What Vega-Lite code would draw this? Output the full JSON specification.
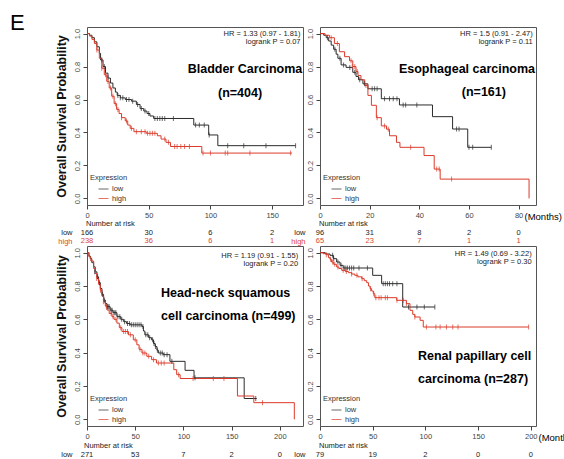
{
"$schema":"https://vega.github.io/schema/vega-lite/v6.json",
"padding":{"left":10,"top":11,"right":0,"bottom":0},
"background":"white",
"title":{"text":"E","anchor":"start","frame":"group","dx":-77,"offset":-8,"fontSize":22,"fontWeight":"normal","font":"Liberation Sans","color":"#000"},
"datasets":{
"curves":[
{"p":"TL","g":"low","t":0,"s":1},{"p":"TL","g":"low","t":2,"s":0.99},{"p":"TL","g":"low","t":4,"s":0.975},{"p":"TL","g":"low","t":6,"s":0.95},{"p":"TL","g":"low","t":8,"s":0.92},{"p":"TL","g":"low","t":10,"s":0.88},{"p":"TL","g":"low","t":11,"s":0.84},{"p":"TL","g":"low","t":13,"s":0.8},{"p":"TL","g":"low","t":15,"s":0.76},{"p":"TL","g":"low","t":17,"s":0.73},{"p":"TL","g":"low","t":19,"s":0.7},{"p":"TL","g":"low","t":21,"s":0.67},{"p":"TL","g":"low","t":23,"s":0.645},{"p":"TL","g":"low","t":24.5,"s":0.625},{"p":"TL","g":"low","t":27,"s":0.61},{"p":"TL","g":"low","t":31,"s":0.6},{"p":"TL","g":"low","t":36,"s":0.59},{"p":"TL","g":"low","t":40,"s":0.57},{"p":"TL","g":"low","t":43,"s":0.545},{"p":"TL","g":"low","t":46,"s":0.53},{"p":"TL","g":"low","t":48.6,"s":0.515},{"p":"TL","g":"low","t":51,"s":0.5},{"p":"TL","g":"low","t":54,"s":0.485},{"p":"TL","g":"low","t":86.5,"s":0.445},{"p":"TL","g":"low","t":98.6,"s":0.385},{"p":"TL","g":"low","t":106,"s":0.32},{"p":"TL","g":"low","t":169,"s":0.32},
{"p":"TL","g":"high","t":0,"s":1},{"p":"TL","g":"high","t":2,"s":0.985},{"p":"TL","g":"high","t":4,"s":0.965},{"p":"TL","g":"high","t":6,"s":0.94},{"p":"TL","g":"high","t":8,"s":0.9},{"p":"TL","g":"high","t":10,"s":0.85},{"p":"TL","g":"high","t":12,"s":0.79},{"p":"TL","g":"high","t":14,"s":0.75},{"p":"TL","g":"high","t":16,"s":0.71},{"p":"TL","g":"high","t":18,"s":0.67},{"p":"TL","g":"high","t":20,"s":0.62},{"p":"TL","g":"high","t":22,"s":0.575},{"p":"TL","g":"high","t":24,"s":0.54},{"p":"TL","g":"high","t":26,"s":0.515},{"p":"TL","g":"high","t":28,"s":0.49},{"p":"TL","g":"high","t":31,"s":0.47},{"p":"TL","g":"high","t":33,"s":0.445},{"p":"TL","g":"high","t":35,"s":0.425},{"p":"TL","g":"high","t":38,"s":0.405},{"p":"TL","g":"high","t":48,"s":0.395},{"p":"TL","g":"high","t":57,"s":0.38},{"p":"TL","g":"high","t":60,"s":0.36},{"p":"TL","g":"high","t":64,"s":0.34},{"p":"TL","g":"high","t":67.6,"s":0.315},{"p":"TL","g":"high","t":93,"s":0.275},{"p":"TL","g":"high","t":166,"s":0.275},
{"p":"TR","g":"low","t":0,"s":1},{"p":"TR","g":"low","t":1.5,"s":0.99},{"p":"TR","g":"low","t":2.5,"s":0.975},{"p":"TR","g":"low","t":3.5,"s":0.955},{"p":"TR","g":"low","t":4.5,"s":0.93},{"p":"TR","g":"low","t":5.5,"s":0.905},{"p":"TR","g":"low","t":6.5,"s":0.875},{"p":"TR","g":"low","t":7.2,"s":0.85},{"p":"TR","g":"low","t":8.5,"s":0.81},{"p":"TR","g":"low","t":10.5,"s":0.795},{"p":"TR","g":"low","t":13.2,"s":0.765},{"p":"TR","g":"low","t":14.5,"s":0.74},{"p":"TR","g":"low","t":15.5,"s":0.72},{"p":"TR","g":"low","t":17.3,"s":0.695},{"p":"TR","g":"low","t":19.3,"s":0.665},{"p":"TR","g":"low","t":24.7,"s":0.605},{"p":"TR","g":"low","t":32,"s":0.567},{"p":"TR","g":"low","t":45.3,"s":0.496},{"p":"TR","g":"low","t":53.4,"s":0.421},{"p":"TR","g":"low","t":59.5,"s":0.31},{"p":"TR","g":"low","t":69,"s":0.31},
{"p":"TR","g":"high","t":0,"s":1},{"p":"TR","g":"high","t":2,"s":0.99},{"p":"TR","g":"high","t":3.8,"s":0.975},{"p":"TR","g":"high","t":5.8,"s":0.94},{"p":"TR","g":"high","t":7.8,"s":0.89},{"p":"TR","g":"high","t":9.9,"s":0.86},{"p":"TR","g":"high","t":11.9,"s":0.835},{"p":"TR","g":"high","t":13.2,"s":0.8},{"p":"TR","g":"high","t":14.5,"s":0.77},{"p":"TR","g":"high","t":15.3,"s":0.745},{"p":"TR","g":"high","t":16.5,"s":0.72},{"p":"TR","g":"high","t":18,"s":0.685},{"p":"TR","g":"high","t":19.3,"s":0.625},{"p":"TR","g":"high","t":20.7,"s":0.565},{"p":"TR","g":"high","t":22.7,"s":0.49},{"p":"TR","g":"high","t":24.7,"s":0.44},{"p":"TR","g":"high","t":26.8,"s":0.42},{"p":"TR","g":"high","t":28,"s":0.38},{"p":"TR","g":"high","t":30.8,"s":0.34},{"p":"TR","g":"high","t":32.2,"s":0.31},{"p":"TR","g":"high","t":41.9,"s":0.26},{"p":"TR","g":"high","t":46,"s":0.178},{"p":"TR","g":"high","t":48.4,"s":0.117},{"p":"TR","g":"high","t":84.2,"s":0},
{"p":"BL","g":"low","t":0,"s":1},{"p":"BL","g":"low","t":2,"s":0.98},{"p":"BL","g":"low","t":3.4,"s":0.964},{"p":"BL","g":"low","t":5,"s":0.94},{"p":"BL","g":"low","t":6.9,"s":0.915},{"p":"BL","g":"low","t":8.5,"s":0.885},{"p":"BL","g":"low","t":10.3,"s":0.855},{"p":"BL","g":"low","t":12,"s":0.82},{"p":"BL","g":"low","t":13.8,"s":0.785},{"p":"BL","g":"low","t":15.5,"s":0.75},{"p":"BL","g":"low","t":17.2,"s":0.716},{"p":"BL","g":"low","t":19,"s":0.695},{"p":"BL","g":"low","t":20.7,"s":0.676},{"p":"BL","g":"low","t":24,"s":0.655},{"p":"BL","g":"low","t":27,"s":0.64},{"p":"BL","g":"low","t":31,"s":0.616},{"p":"BL","g":"low","t":35,"s":0.6},{"p":"BL","g":"low","t":38,"s":0.586},{"p":"BL","g":"low","t":41,"s":0.575},{"p":"BL","g":"low","t":44.8,"s":0.567},{"p":"BL","g":"low","t":57,"s":0.557},{"p":"BL","g":"low","t":58.5,"s":0.53},{"p":"BL","g":"low","t":60,"s":0.507},{"p":"BL","g":"low","t":64,"s":0.49},{"p":"BL","g":"low","t":67,"s":0.477},{"p":"BL","g":"low","t":69,"s":0.455},{"p":"BL","g":"low","t":70.7,"s":0.437},{"p":"BL","g":"low","t":72.5,"s":0.415},{"p":"BL","g":"low","t":74,"s":0.398},{"p":"BL","g":"low","t":79,"s":0.388},{"p":"BL","g":"low","t":86,"s":0.348},{"p":"BL","g":"low","t":101.7,"s":0.294},{"p":"BL","g":"low","t":111,"s":0.249},{"p":"BL","g":"low","t":163,"s":0.125},{"p":"BL","g":"low","t":176,"s":0.125},
{"p":"BL","g":"high","t":0,"s":1},{"p":"BL","g":"high","t":2,"s":0.975},{"p":"BL","g":"high","t":4,"s":0.95},{"p":"BL","g":"high","t":6.9,"s":0.905},{"p":"BL","g":"high","t":8.5,"s":0.875},{"p":"BL","g":"high","t":10.3,"s":0.845},{"p":"BL","g":"high","t":12,"s":0.81},{"p":"BL","g":"high","t":13.8,"s":0.775},{"p":"BL","g":"high","t":15.5,"s":0.74},{"p":"BL","g":"high","t":17.2,"s":0.706},{"p":"BL","g":"high","t":19,"s":0.68},{"p":"BL","g":"high","t":20.7,"s":0.656},{"p":"BL","g":"high","t":23,"s":0.635},{"p":"BL","g":"high","t":25.9,"s":0.616},{"p":"BL","g":"high","t":28,"s":0.6},{"p":"BL","g":"high","t":31,"s":0.577},{"p":"BL","g":"high","t":33.5,"s":0.55},{"p":"BL","g":"high","t":36.2,"s":0.527},{"p":"BL","g":"high","t":43,"s":0.507},{"p":"BL","g":"high","t":48,"s":0.477},{"p":"BL","g":"high","t":51.7,"s":0.447},{"p":"BL","g":"high","t":54,"s":0.42},{"p":"BL","g":"high","t":57,"s":0.398},{"p":"BL","g":"high","t":62,"s":0.378},{"p":"BL","g":"high","t":67,"s":0.358},{"p":"BL","g":"high","t":72,"s":0.338},{"p":"BL","g":"high","t":90,"s":0.298},{"p":"BL","g":"high","t":93,"s":0.268},{"p":"BL","g":"high","t":96.6,"s":0.245},{"p":"BL","g":"high","t":156,"s":0.14},{"p":"BL","g":"high","t":173,"s":0.1},{"p":"BL","g":"high","t":215,"s":0},
{"p":"BR","g":"low","t":0,"s":1},{"p":"BR","g":"low","t":5,"s":0.992},{"p":"BR","g":"low","t":9.5,"s":0.984},{"p":"BR","g":"low","t":12.7,"s":0.964},{"p":"BR","g":"low","t":15.8,"s":0.944},{"p":"BR","g":"low","t":19,"s":0.924},{"p":"BR","g":"low","t":22,"s":0.908},{"p":"BR","g":"low","t":50,"s":0.864},{"p":"BR","g":"low","t":58.5,"s":0.814},{"p":"BR","g":"low","t":78.5,"s":0.674},{"p":"BR","g":"low","t":109,"s":0.674},
{"p":"BR","g":"high","t":0,"s":1},{"p":"BR","g":"high","t":3,"s":0.994},{"p":"BR","g":"high","t":6.3,"s":0.988},{"p":"BR","g":"high","t":8,"s":0.97},{"p":"BR","g":"high","t":9.5,"s":0.96},{"p":"BR","g":"high","t":11,"s":0.944},{"p":"BR","g":"high","t":13,"s":0.93},{"p":"BR","g":"high","t":15.8,"s":0.914},{"p":"BR","g":"high","t":18,"s":0.905},{"p":"BR","g":"high","t":20.6,"s":0.894},{"p":"BR","g":"high","t":24,"s":0.887},{"p":"BR","g":"high","t":27,"s":0.88},{"p":"BR","g":"high","t":30,"s":0.872},{"p":"BR","g":"high","t":33,"s":0.864},{"p":"BR","g":"high","t":36,"s":0.855},{"p":"BR","g":"high","t":39.6,"s":0.844},{"p":"BR","g":"high","t":42,"s":0.832},{"p":"BR","g":"high","t":44.3,"s":0.82},{"p":"BR","g":"high","t":46,"s":0.8},{"p":"BR","g":"high","t":47.5,"s":0.784},{"p":"BR","g":"high","t":49,"s":0.77},{"p":"BR","g":"high","t":50.6,"s":0.754},{"p":"BR","g":"high","t":52,"s":0.73},{"p":"BR","g":"high","t":72.8,"s":0.714},{"p":"BR","g":"high","t":82,"s":0.694},{"p":"BR","g":"high","t":85.4,"s":0.654},{"p":"BR","g":"high","t":88,"s":0.63},{"p":"BR","g":"high","t":90,"s":0.614},{"p":"BR","g":"high","t":95,"s":0.594},{"p":"BR","g":"high","t":98,"s":0.554},{"p":"BR","g":"high","t":198,"s":0.554}
],
"cens":[
{"p":"TL","g":"low","t":12,"s":0.84},{"p":"TL","g":"low","t":14,"s":0.8},{"p":"TL","g":"low","t":17,"s":0.73},{"p":"TL","g":"low","t":25,"s":0.625},{"p":"TL","g":"low","t":27,"s":0.61},{"p":"TL","g":"low","t":29,"s":0.61},{"p":"TL","g":"low","t":32,"s":0.6},{"p":"TL","g":"low","t":34,"s":0.6},{"p":"TL","g":"low","t":37,"s":0.59},{"p":"TL","g":"low","t":41,"s":0.57},{"p":"TL","g":"low","t":44,"s":0.545},{"p":"TL","g":"low","t":47,"s":0.53},{"p":"TL","g":"low","t":50,"s":0.515},{"p":"TL","g":"low","t":55,"s":0.485},{"p":"TL","g":"low","t":57,"s":0.485},{"p":"TL","g":"low","t":59,"s":0.485},{"p":"TL","g":"low","t":61,"s":0.485},{"p":"TL","g":"low","t":63,"s":0.485},{"p":"TL","g":"low","t":70,"s":0.485},{"p":"TL","g":"low","t":88,"s":0.445},{"p":"TL","g":"low","t":91,"s":0.445},{"p":"TL","g":"low","t":95,"s":0.445},{"p":"TL","g":"low","t":99,"s":0.385},{"p":"TL","g":"low","t":114,"s":0.32},{"p":"TL","g":"low","t":127,"s":0.32},{"p":"TL","g":"low","t":145,"s":0.32},{"p":"TL","g":"low","t":169,"s":0.32},
{"p":"TL","g":"high","t":8,"s":0.9},{"p":"TL","g":"high","t":12,"s":0.79},{"p":"TL","g":"high","t":15,"s":0.75},{"p":"TL","g":"high","t":17,"s":0.71},{"p":"TL","g":"high","t":19,"s":0.67},{"p":"TL","g":"high","t":21,"s":0.62},{"p":"TL","g":"high","t":23,"s":0.575},{"p":"TL","g":"high","t":25,"s":0.54},{"p":"TL","g":"high","t":28,"s":0.49},{"p":"TL","g":"high","t":32,"s":0.47},{"p":"TL","g":"high","t":36,"s":0.425},{"p":"TL","g":"high","t":40,"s":0.405},{"p":"TL","g":"high","t":44,"s":0.405},{"p":"TL","g":"high","t":47,"s":0.405},{"p":"TL","g":"high","t":49,"s":0.395},{"p":"TL","g":"high","t":51,"s":0.395},{"p":"TL","g":"high","t":53,"s":0.395},{"p":"TL","g":"high","t":55,"s":0.395},{"p":"TL","g":"high","t":63,"s":0.36},{"p":"TL","g":"high","t":66,"s":0.34},{"p":"TL","g":"high","t":71,"s":0.315},{"p":"TL","g":"high","t":73,"s":0.315},{"p":"TL","g":"high","t":76,"s":0.315},{"p":"TL","g":"high","t":79,"s":0.315},{"p":"TL","g":"high","t":83,"s":0.315},{"p":"TL","g":"high","t":94,"s":0.275},{"p":"TL","g":"high","t":100,"s":0.275},{"p":"TL","g":"high","t":112,"s":0.275},{"p":"TL","g":"high","t":114,"s":0.275},{"p":"TL","g":"high","t":132,"s":0.275},{"p":"TL","g":"high","t":165,"s":0.275},
{"p":"TR","g":"low","t":3,"s":0.975},{"p":"TR","g":"low","t":6,"s":0.905},{"p":"TR","g":"low","t":8,"s":0.85},{"p":"TR","g":"low","t":9.5,"s":0.81},{"p":"TR","g":"low","t":12,"s":0.795},{"p":"TR","g":"low","t":14,"s":0.765},{"p":"TR","g":"low","t":16,"s":0.72},{"p":"TR","g":"low","t":18,"s":0.695},{"p":"TR","g":"low","t":21,"s":0.665},{"p":"TR","g":"low","t":22,"s":0.665},{"p":"TR","g":"low","t":23,"s":0.665},{"p":"TR","g":"low","t":26,"s":0.605},{"p":"TR","g":"low","t":28,"s":0.605},{"p":"TR","g":"low","t":29.5,"s":0.605},{"p":"TR","g":"low","t":31,"s":0.605},{"p":"TR","g":"low","t":33.5,"s":0.567},{"p":"TR","g":"low","t":34.5,"s":0.567},{"p":"TR","g":"low","t":39,"s":0.567},{"p":"TR","g":"low","t":55,"s":0.421},{"p":"TR","g":"low","t":56,"s":0.421},{"p":"TR","g":"low","t":60,"s":0.31},{"p":"TR","g":"low","t":61.5,"s":0.31},{"p":"TR","g":"low","t":69,"s":0.31},
{"p":"TR","g":"high","t":4.5,"s":0.975},{"p":"TR","g":"high","t":7,"s":0.94},{"p":"TR","g":"high","t":12.5,"s":0.835},{"p":"TR","g":"high","t":13,"s":0.8},{"p":"TR","g":"high","t":14,"s":0.8},{"p":"TR","g":"high","t":15,"s":0.77},{"p":"TR","g":"high","t":18.5,"s":0.685},{"p":"TR","g":"high","t":23,"s":0.49},{"p":"TR","g":"high","t":26,"s":0.44},{"p":"TR","g":"high","t":27.5,"s":0.42},{"p":"TR","g":"high","t":36.5,"s":0.31},{"p":"TR","g":"high","t":47,"s":0.178},{"p":"TR","g":"high","t":48,"s":0.178},{"p":"TR","g":"high","t":53,"s":0.117},
{"p":"BL","g":"low","t":8,"s":0.885},{"p":"BL","g":"low","t":11,"s":0.855},{"p":"BL","g":"low","t":13,"s":0.82},{"p":"BL","g":"low","t":16,"s":0.75},{"p":"BL","g":"low","t":18,"s":0.716},{"p":"BL","g":"low","t":21,"s":0.676},{"p":"BL","g":"low","t":22,"s":0.676},{"p":"BL","g":"low","t":23,"s":0.676},{"p":"BL","g":"low","t":25,"s":0.655},{"p":"BL","g":"low","t":26,"s":0.655},{"p":"BL","g":"low","t":28,"s":0.64},{"p":"BL","g":"low","t":29,"s":0.64},{"p":"BL","g":"low","t":30,"s":0.64},{"p":"BL","g":"low","t":32,"s":0.616},{"p":"BL","g":"low","t":34,"s":0.616},{"p":"BL","g":"low","t":36,"s":0.6},{"p":"BL","g":"low","t":39,"s":0.586},{"p":"BL","g":"low","t":42,"s":0.575},{"p":"BL","g":"low","t":44,"s":0.575},{"p":"BL","g":"low","t":46,"s":0.567},{"p":"BL","g":"low","t":48,"s":0.567},{"p":"BL","g":"low","t":50,"s":0.567},{"p":"BL","g":"low","t":52,"s":0.567},{"p":"BL","g":"low","t":54,"s":0.567},{"p":"BL","g":"low","t":56,"s":0.567},{"p":"BL","g":"low","t":58,"s":0.557},{"p":"BL","g":"low","t":61,"s":0.507},{"p":"BL","g":"low","t":63,"s":0.507},{"p":"BL","g":"low","t":65,"s":0.49},{"p":"BL","g":"low","t":68,"s":0.477},{"p":"BL","g":"low","t":69.5,"s":0.455},{"p":"BL","g":"low","t":71,"s":0.437},{"p":"BL","g":"low","t":73,"s":0.415},{"p":"BL","g":"low","t":76,"s":0.398},{"p":"BL","g":"low","t":78,"s":0.398},{"p":"BL","g":"low","t":80,"s":0.388},{"p":"BL","g":"low","t":83,"s":0.388},{"p":"BL","g":"low","t":88,"s":0.348},{"p":"BL","g":"low","t":112,"s":0.249},{"p":"BL","g":"low","t":175,"s":0.125},
{"p":"BL","g":"high","t":10,"s":0.845},{"p":"BL","g":"high","t":14,"s":0.775},{"p":"BL","g":"high","t":17,"s":0.706},{"p":"BL","g":"high","t":20,"s":0.68},{"p":"BL","g":"high","t":25,"s":0.635},{"p":"BL","g":"high","t":27,"s":0.616},{"p":"BL","g":"high","t":30,"s":0.6},{"p":"BL","g":"high","t":35,"s":0.55},{"p":"BL","g":"high","t":38,"s":0.527},{"p":"BL","g":"high","t":40,"s":0.527},{"p":"BL","g":"high","t":42,"s":0.527},{"p":"BL","g":"high","t":45,"s":0.507},{"p":"BL","g":"high","t":50,"s":0.477},{"p":"BL","g":"high","t":55,"s":0.42},{"p":"BL","g":"high","t":58,"s":0.398},{"p":"BL","g":"high","t":60,"s":0.398},{"p":"BL","g":"high","t":64,"s":0.378},{"p":"BL","g":"high","t":69,"s":0.358},{"p":"BL","g":"high","t":74,"s":0.338},{"p":"BL","g":"high","t":77,"s":0.338},{"p":"BL","g":"high","t":80,"s":0.338},{"p":"BL","g":"high","t":95,"s":0.268},{"p":"BL","g":"high","t":110,"s":0.245},{"p":"BL","g":"high","t":131,"s":0.245},{"p":"BL","g":"high","t":142,"s":0.245},{"p":"BL","g":"high","t":182,"s":0.1},
{"p":"BR","g":"low","t":12,"s":0.984},{"p":"BR","g":"low","t":13,"s":0.964},{"p":"BR","g":"low","t":17,"s":0.944},{"p":"BR","g":"low","t":20,"s":0.924},{"p":"BR","g":"low","t":23,"s":0.908},{"p":"BR","g":"low","t":24.5,"s":0.908},{"p":"BR","g":"low","t":26,"s":0.908},{"p":"BR","g":"low","t":28,"s":0.908},{"p":"BR","g":"low","t":30,"s":0.908},{"p":"BR","g":"low","t":32,"s":0.908},{"p":"BR","g":"low","t":37,"s":0.908},{"p":"BR","g":"low","t":45,"s":0.908},{"p":"BR","g":"low","t":60,"s":0.814},{"p":"BR","g":"low","t":62,"s":0.814},{"p":"BR","g":"low","t":64,"s":0.814},{"p":"BR","g":"low","t":66,"s":0.814},{"p":"BR","g":"low","t":69,"s":0.814},{"p":"BR","g":"low","t":73,"s":0.814},{"p":"BR","g":"low","t":84,"s":0.674},{"p":"BR","g":"low","t":92,"s":0.674},{"p":"BR","g":"low","t":99,"s":0.674},{"p":"BR","g":"low","t":109,"s":0.674},
{"p":"BR","g":"high","t":6,"s":0.988},{"p":"BR","g":"high","t":10,"s":0.96},{"p":"BR","g":"high","t":12,"s":0.944},{"p":"BR","g":"high","t":14,"s":0.93},{"p":"BR","g":"high","t":17,"s":0.914},{"p":"BR","g":"high","t":22,"s":0.894},{"p":"BR","g":"high","t":25,"s":0.887},{"p":"BR","g":"high","t":30,"s":0.872},{"p":"BR","g":"high","t":35,"s":0.864},{"p":"BR","g":"high","t":40,"s":0.844},{"p":"BR","g":"high","t":48,"s":0.784},{"p":"BR","g":"high","t":51,"s":0.754},{"p":"BR","g":"high","t":53,"s":0.73},{"p":"BR","g":"high","t":56,"s":0.73},{"p":"BR","g":"high","t":58,"s":0.73},{"p":"BR","g":"high","t":62,"s":0.73},{"p":"BR","g":"high","t":64,"s":0.73},{"p":"BR","g":"high","t":73,"s":0.714},{"p":"BR","g":"high","t":79,"s":0.714},{"p":"BR","g":"high","t":82,"s":0.694},{"p":"BR","g":"high","t":90,"s":0.614},{"p":"BR","g":"high","t":101,"s":0.554},{"p":"BR","g":"high","t":110,"s":0.554},{"p":"BR","g":"high","t":114,"s":0.554},{"p":"BR","g":"high","t":120,"s":0.554},{"p":"BR","g":"high","t":126,"s":0.554},{"p":"BR","g":"high","t":131,"s":0.554},{"p":"BR","g":"high","t":198,"s":0.554}
],
"risk":[
{"p":"TL","g":"low","t":0,"n":166},{"p":"TL","g":"low","t":50,"n":30},{"p":"TL","g":"low","t":100,"n":6},{"p":"TL","g":"low","t":150,"n":2},
{"p":"TL","g":"high","t":0,"n":238},{"p":"TL","g":"high","t":50,"n":36},{"p":"TL","g":"high","t":100,"n":6},{"p":"TL","g":"high","t":150,"n":1},
{"p":"TR","g":"low","t":0,"n":96},{"p":"TR","g":"low","t":20,"n":31},{"p":"TR","g":"low","t":40,"n":8},{"p":"TR","g":"low","t":60,"n":2},{"p":"TR","g":"low","t":80,"n":0},
{"p":"TR","g":"high","t":0,"n":65},{"p":"TR","g":"high","t":20,"n":23},{"p":"TR","g":"high","t":40,"n":7},{"p":"TR","g":"high","t":60,"n":1},{"p":"TR","g":"high","t":80,"n":1},
{"p":"BL","g":"low","t":0,"n":271},{"p":"BL","g":"low","t":50,"n":53},{"p":"BL","g":"low","t":100,"n":7},{"p":"BL","g":"low","t":150,"n":2},{"p":"BL","g":"low","t":200,"n":0},
{"p":"BL","g":"high","t":0,"n":228},{"p":"BL","g":"high","t":50,"n":33},{"p":"BL","g":"high","t":100,"n":8},{"p":"BL","g":"high","t":150,"n":1},{"p":"BL","g":"high","t":200,"n":1},
{"p":"BR","g":"low","t":0,"n":79},{"p":"BR","g":"low","t":50,"n":19},{"p":"BR","g":"low","t":100,"n":2},{"p":"BR","g":"low","t":150,"n":0},{"p":"BR","g":"low","t":200,"n":0},
{"p":"BR","g":"high","t":0,"n":208},{"p":"BR","g":"high","t":50,"n":54},{"p":"BR","g":"high","t":100,"n":10},{"p":"BR","g":"high","t":150,"n":1},{"p":"BR","g":"high","t":200,"n":0}
]
},
"bounds":"flush",
"columns":2,
"spacing":{"row":0,"column":17},
"resolve":{"scale":{"x":"independent","y":"independent","color":"independent"},"legend":{"color":"independent"}},
"concat":[
 {"width":216,"height":178,
  "layer":[
   {"data":{"name":"curves"},"transform":[{"filter":"datum.p == 'TL'"}],"mark":{"type":"line","interpolate":"step-after","strokeWidth":1},
    "encoding":{
     "x":{"field":"t","type":"quantitative","scale":{"domain":[0,175],"nice":false,"zero":false},"axis":{"values":[0,50,100,150],"title":null,"labelOverlap":false}},
     "y":{"field":"s","type":"quantitative","scale":{"domain":[-0.04,1.04],"nice":false,"zero":false},"axis":{"values":[0,0.2,0.4,0.6,0.8,1],"format":".1f","labelOverlap":false,"labelBound":false,"labelSeparation":-50,"title":"Overall Survival Probability"}},
     "color":{"field":"g","type":"nominal","scale":{"domain":["low","high"],"range":["#2b2b2b","#dc3a2a"]},"legend":{"title":"Expression"}}}},
   {"data":{"name":"cens"},"transform":[{"filter":"datum.p == 'TL'"}],"mark":{"type":"tick","orient":"vertical","size":5,"thickness":1},
    "encoding":{
     "x":{"field":"t","type":"quantitative","axis":{"values":[0,50,100,150],"title":null,"labelOverlap":false}},
     "y":{"field":"s","type":"quantitative","axis":{"values":[0,0.2,0.4,0.6,0.8,1],"format":".1f","labelOverlap":false,"labelBound":false,"labelSeparation":-50,"title":"Overall Survival Probability"}},
     "color":{"field":"g","type":"nominal"}}},
   {"data":{"values":[{}]},"mark":{"type":"text","align":"right","baseline":"top","fontSize":7.5,"lineHeight":7.5,"color":"#222"},"encoding":{
     "x":{"datum":173,"type":"quantitative","axis":{"values":[0,50,100,150],"title":null,"labelOverlap":false}},
     "y":{"datum":1.019,"type":"quantitative","axis":{"values":[0,0.2,0.4,0.6,0.8,1],"format":".1f","labelOverlap":false,"labelBound":false,"labelSeparation":-50,"title":"Overall Survival Probability"}},
     "text":{"value":["HR = 1.33 (0.97 - 1.81)","logrank P = 0.07"]}}},
   {"data":{"values":[{}]},"mark":{"type":"text","align":"center","baseline":"middle","fontSize":12.5,"fontWeight":"bold","color":"#000"},"encoding":{
     "x":{"datum":128,"type":"quantitative","axis":{"values":[0,50,100,150],"title":null,"labelOverlap":false}},
     "y":{"datum":0.785,"type":"quantitative","axis":{"values":[0,0.2,0.4,0.6,0.8,1],"format":".1f","labelOverlap":false,"labelBound":false,"labelSeparation":-50,"title":"Overall Survival Probability"}},
     "text":{"value":"Bladder Carcinoma"}}},
   {"data":{"values":[{}]},"mark":{"type":"text","align":"center","baseline":"middle","fontSize":12.5,"fontWeight":"bold","color":"#000"},"encoding":{
     "x":{"datum":124,"type":"quantitative","axis":{"values":[0,50,100,150],"title":null,"labelOverlap":false}},
     "y":{"datum":0.64,"type":"quantitative","axis":{"values":[0,0.2,0.4,0.6,0.8,1],"format":".1f","labelOverlap":false,"labelBound":false,"labelSeparation":-50,"title":"Overall Survival Probability"}},
     "text":{"value":"(n=404)"}}}
  ]},
 {"width":216,"height":178,
  "layer":[
   {"data":{"name":"curves"},"transform":[{"filter":"datum.p == 'TR'"}],"mark":{"type":"line","interpolate":"step-after","strokeWidth":1},
    "encoding":{
     "x":{"field":"t","type":"quantitative","scale":{"domain":[0,87],"nice":false,"zero":false},"axis":{"values":[0,20,40,60,80],"labelOverlap":false,"title":"(Months)","titleX":204,"titleY":11,"titleAlign":"left","titleBaseline":"middle","titleAngle":0,"titleFontSize":9.5,"titleFontWeight":"normal","titleColor":"#000"}},
     "y":{"field":"s","type":"quantitative","scale":{"domain":[-0.04,1.04],"nice":false,"zero":false},"axis":{"values":[0,0.2,0.4,0.6,0.8,1],"format":".1f","labelOverlap":false,"labelBound":false,"labelSeparation":-50,"title":null}},
     "color":{"field":"g","type":"nominal","scale":{"domain":["low","high"],"range":["#2b2b2b","#dc3a2a"]},"legend":{"title":"Expression"}}}},
   {"data":{"name":"cens"},"transform":[{"filter":"datum.p == 'TR'"}],"mark":{"type":"tick","orient":"vertical","size":5,"thickness":1},
    "encoding":{
     "x":{"field":"t","type":"quantitative","axis":{"values":[0,20,40,60,80],"labelOverlap":false,"title":"(Months)","titleX":204,"titleY":11,"titleAlign":"left","titleBaseline":"middle","titleAngle":0,"titleFontSize":9.5,"titleFontWeight":"normal","titleColor":"#000"}},
     "y":{"field":"s","type":"quantitative","axis":{"values":[0,0.2,0.4,0.6,0.8,1],"format":".1f","labelOverlap":false,"labelBound":false,"labelSeparation":-50,"title":null}},
     "color":{"field":"g","type":"nominal"}}},
   {"data":{"values":[{}]},"mark":{"type":"text","align":"right","baseline":"top","fontSize":7.5,"lineHeight":7.5,"color":"#222"},"encoding":{
     "x":{"datum":85.7,"type":"quantitative","axis":{"values":[0,20,40,60,80],"labelOverlap":false,"title":"(Months)","titleX":204,"titleY":11,"titleAlign":"left","titleBaseline":"middle","titleAngle":0,"titleFontSize":9.5,"titleFontWeight":"normal","titleColor":"#000"}},
     "y":{"datum":1.02,"type":"quantitative","axis":{"values":[0,0.2,0.4,0.6,0.8,1],"format":".1f","labelOverlap":false,"labelBound":false,"labelSeparation":-50,"title":null}},
     "text":{"value":["HR = 1.5 (0.91 - 2.47)","logrank P = 0.11"]}}},
   {"data":{"values":[{}]},"mark":{"type":"text","align":"center","baseline":"middle","fontSize":12.5,"fontWeight":"bold","color":"#000"},"encoding":{
     "x":{"datum":59.2,"type":"quantitative","axis":{"values":[0,20,40,60,80],"labelOverlap":false,"title":"(Months)","titleX":204,"titleY":11,"titleAlign":"left","titleBaseline":"middle","titleAngle":0,"titleFontSize":9.5,"titleFontWeight":"normal","titleColor":"#000"}},
     "y":{"datum":0.785,"type":"quantitative","axis":{"values":[0,0.2,0.4,0.6,0.8,1],"format":".1f","labelOverlap":false,"labelBound":false,"labelSeparation":-50,"title":null}},
     "text":{"value":"Esophageal carcinoma"}}},
   {"data":{"values":[{}]},"mark":{"type":"text","align":"center","baseline":"middle","fontSize":12.5,"fontWeight":"bold","color":"#000"},"encoding":{
     "x":{"datum":66,"type":"quantitative","axis":{"values":[0,20,40,60,80],"labelOverlap":false,"title":"(Months)","titleX":204,"titleY":11,"titleAlign":"left","titleBaseline":"middle","titleAngle":0,"titleFontSize":9.5,"titleFontWeight":"normal","titleColor":"#000"}},
     "y":{"datum":0.645,"type":"quantitative","axis":{"values":[0,0.2,0.4,0.6,0.8,1],"format":".1f","labelOverlap":false,"labelBound":false,"labelSeparation":-50,"title":null}},
     "text":{"value":"(n=161)"}}}
  ]},
 {"width":216,"height":41,"view":{"stroke":null},
  "layer":[
   {"data":{"name":"risk"},"transform":[{"filter":"datum.p == 'TL'"}],"mark":{"type":"text","align":"center","baseline":"middle","fontSize":7.5},
    "encoding":{"x":{"field":"t","type":"quantitative","scale":{"domain":[0,175],"nice":false,"zero":false},"axis":null},
     "y":{"field":"g","type":"ordinal","scale":{"domain":["hdr","low","high"],"range":[19,36],"padding":0},"axis":{"title":null,"ticks":false,"domain":false,"labelAngle":0,"labelAlign":"right","labelBaseline":"middle","labelPadding":15,"labelFontSize":7.5,"labelOverlap":false,"labelExpr":"datum.value == 'hdr' ? '' : datum.value","labelColor":{"condition":{"test":"datum.value == 'high'","value":"#d9452f"},"value":"#222"}}},
     "text":{"field":"n","type":"quantitative"},
     "color":{"condition":{"test":"datum.g == 'high'","value":"#d9452f"},"value":"#222"}}},
   {"data":{"values":[{}]},"mark":{"type":"text","align":"left","baseline":"middle","fontSize":7.5,"dx":-1,"color":"#222"},"encoding":{"x":{"datum":0},"y":{"datum":"hdr"},"text":{"value":"Number at risk"}}}
  ]},
 {"width":216,"height":41,"view":{"stroke":null},
  "layer":[
   {"data":{"name":"risk"},"transform":[{"filter":"datum.p == 'TR'"}],"mark":{"type":"text","align":"center","baseline":"middle","fontSize":7.5},
    "encoding":{"x":{"field":"t","type":"quantitative","scale":{"domain":[0,87],"nice":false,"zero":false},"axis":null},
     "y":{"field":"g","type":"ordinal","scale":{"domain":["hdr","low","high"],"range":[19,36],"padding":0},"axis":{"title":null,"ticks":false,"domain":false,"labelAngle":0,"labelAlign":"right","labelBaseline":"middle","labelPadding":15,"labelFontSize":7.5,"labelOverlap":false,"labelExpr":"datum.value == 'hdr' ? '' : datum.value","labelColor":{"condition":{"test":"datum.value == 'high'","value":"#d9452f"},"value":"#222"}}},
     "text":{"field":"n","type":"quantitative"},
     "color":{"condition":{"test":"datum.g == 'high'","value":"#d9452f"},"value":"#222"}}},
   {"data":{"values":[{}]},"mark":{"type":"text","align":"left","baseline":"middle","fontSize":7.5,"dx":-1,"color":"#222"},"encoding":{"x":{"datum":0},"y":{"datum":"hdr"},"text":{"value":"Number at risk"}}}
  ]},
 {"width":216,"height":180,
  "layer":[
   {"data":{"name":"curves"},"transform":[{"filter":"datum.p == 'BL'"}],"mark":{"type":"line","interpolate":"step-after","strokeWidth":1},
    "encoding":{
     "x":{"field":"t","type":"quantitative","scale":{"domain":[0,224],"nice":false,"zero":false},"axis":{"values":[0,50,100,150,200],"labelOverlap":false,"title":null}},
     "y":{"field":"s","type":"quantitative","scale":{"domain":[-0.04,1.04],"nice":false,"zero":false},"axis":{"values":[0,0.2,0.4,0.6,0.8,1],"format":".1f","labelOverlap":false,"labelBound":false,"labelSeparation":-50,"title":"Overall Survival Probability"}},
     "color":{"field":"g","type":"nominal","scale":{"domain":["low","high"],"range":["#2b2b2b","#dc3a2a"]},"legend":{"title":"Expression"}}}},
   {"data":{"name":"cens"},"transform":[{"filter":"datum.p == 'BL'"}],"mark":{"type":"tick","orient":"vertical","size":5,"thickness":1},
    "encoding":{
     "x":{"field":"t","type":"quantitative","axis":{"values":[0,50,100,150,200],"labelOverlap":false,"title":null}},
     "y":{"field":"s","type":"quantitative","axis":{"values":[0,0.2,0.4,0.6,0.8,1],"format":".1f","labelOverlap":false,"labelBound":false,"labelSeparation":-50,"title":"Overall Survival Probability"}},
     "color":{"field":"g","type":"nominal"}}},
   {"data":{"values":[{}]},"mark":{"type":"text","align":"right","baseline":"top","fontSize":7.5,"lineHeight":7.5,"color":"#222"},"encoding":{
     "x":{"datum":219,"type":"quantitative","axis":{"values":[0,50,100,150,200],"labelOverlap":false,"title":null}},
     "y":{"datum":1.002,"type":"quantitative","axis":{"values":[0,0.2,0.4,0.6,0.8,1],"format":".1f","labelOverlap":false,"labelBound":false,"labelSeparation":-50,"title":"Overall Survival Probability"}},
     "text":{"value":["HR = 1.19 (0.91 - 1.55)","logrank P = 0.20"]}}},
   {"data":{"values":[{}]},"mark":{"type":"text","align":"left","baseline":"middle","fontSize":12.5,"fontWeight":"bold","color":"#000"},"encoding":{
     "x":{"datum":76.8,"type":"quantitative","axis":{"values":[0,50,100,150,200],"labelOverlap":false,"title":null}},
     "y":{"datum":0.758,"type":"quantitative","axis":{"values":[0,0.2,0.4,0.6,0.8,1],"format":".1f","labelOverlap":false,"labelBound":false,"labelSeparation":-50,"title":"Overall Survival Probability"}},
     "text":{"value":"Head-neck squamous"}}},
   {"data":{"values":[{}]},"mark":{"type":"text","align":"left","baseline":"middle","fontSize":12.5,"fontWeight":"bold","color":"#000"},"encoding":{
     "x":{"datum":76.8,"type":"quantitative","axis":{"values":[0,50,100,150,200],"labelOverlap":false,"title":null}},
     "y":{"datum":0.62,"type":"quantitative","axis":{"values":[0,0.2,0.4,0.6,0.8,1],"format":".1f","labelOverlap":false,"labelBound":false,"labelSeparation":-50,"title":"Overall Survival Probability"}},
     "text":{"value":"cell carcinoma (n=499)"}}}
  ]},
 {"width":216,"height":180,
  "layer":[
   {"data":{"name":"curves"},"transform":[{"filter":"datum.p == 'BR'"}],"mark":{"type":"line","interpolate":"step-after","strokeWidth":1},
    "encoding":{
     "x":{"field":"t","type":"quantitative","scale":{"domain":[0,205],"nice":false,"zero":false},"axis":{"values":[0,50,100,150,200],"labelOverlap":false,"title":"(Months)","titleX":218,"titleY":11,"titleAlign":"left","titleBaseline":"middle","titleAngle":0,"titleFontSize":9.5,"titleFontWeight":"normal","titleColor":"#000"}},
     "y":{"field":"s","type":"quantitative","scale":{"domain":[-0.04,1.04],"nice":false,"zero":false},"axis":{"values":[0,0.2,0.4,0.6,0.8,1],"format":".1f","labelOverlap":false,"labelBound":false,"labelSeparation":-50,"title":null}},
     "color":{"field":"g","type":"nominal","scale":{"domain":["low","high"],"range":["#2b2b2b","#dc3a2a"]},"legend":{"title":"Expression"}}}},
   {"data":{"name":"cens"},"transform":[{"filter":"datum.p == 'BR'"}],"mark":{"type":"tick","orient":"vertical","size":5,"thickness":1},
    "encoding":{
     "x":{"field":"t","type":"quantitative","axis":{"values":[0,50,100,150,200],"labelOverlap":false,"title":"(Months)","titleX":218,"titleY":11,"titleAlign":"left","titleBaseline":"middle","titleAngle":0,"titleFontSize":9.5,"titleFontWeight":"normal","titleColor":"#000"}},
     "y":{"field":"s","type":"quantitative","axis":{"values":[0,0.2,0.4,0.6,0.8,1],"format":".1f","labelOverlap":false,"labelBound":false,"labelSeparation":-50,"title":null}},
     "color":{"field":"g","type":"nominal"}}},
   {"data":{"values":[{}]},"mark":{"type":"text","align":"right","baseline":"top","fontSize":7.5,"lineHeight":7.5,"color":"#222"},"encoding":{
     "x":{"datum":200.9,"type":"quantitative","axis":{"values":[0,50,100,150,200],"labelOverlap":false,"title":"(Months)","titleX":218,"titleY":11,"titleAlign":"left","titleBaseline":"middle","titleAngle":0,"titleFontSize":9.5,"titleFontWeight":"normal","titleColor":"#000"}},
     "y":{"datum":1.014,"type":"quantitative","axis":{"values":[0,0.2,0.4,0.6,0.8,1],"format":".1f","labelOverlap":false,"labelBound":false,"labelSeparation":-50,"title":null}},
     "text":{"value":["HR = 1.49 (0.69 - 3.22)","logrank P = 0.30"]}}},
   {"data":{"values":[{}]},"mark":{"type":"text","align":"left","baseline":"middle","fontSize":12.5,"fontWeight":"bold","color":"#000"},"encoding":{
     "x":{"datum":93,"type":"quantitative","axis":{"values":[0,50,100,150,200],"labelOverlap":false,"title":"(Months)","titleX":218,"titleY":11,"titleAlign":"left","titleBaseline":"middle","titleAngle":0,"titleFontSize":9.5,"titleFontWeight":"normal","titleColor":"#000"}},
     "y":{"datum":0.38,"type":"quantitative","axis":{"values":[0,0.2,0.4,0.6,0.8,1],"format":".1f","labelOverlap":false,"labelBound":false,"labelSeparation":-50,"title":null}},
     "text":{"value":"Renal papillary cell"}}},
   {"data":{"values":[{}]},"mark":{"type":"text","align":"left","baseline":"middle","fontSize":12.5,"fontWeight":"bold","color":"#000"},"encoding":{
     "x":{"datum":93,"type":"quantitative","axis":{"values":[0,50,100,150,200],"labelOverlap":false,"title":"(Months)","titleX":218,"titleY":11,"titleAlign":"left","titleBaseline":"middle","titleAngle":0,"titleFontSize":9.5,"titleFontWeight":"normal","titleColor":"#000"}},
     "y":{"datum":0.242,"type":"quantitative","axis":{"values":[0,0.2,0.4,0.6,0.8,1],"format":".1f","labelOverlap":false,"labelBound":false,"labelSeparation":-50,"title":null}},
     "text":{"value":"carcinoma (n=287)"}}}
  ]},
 {"width":216,"height":41,"view":{"stroke":null},
  "layer":[
   {"data":{"name":"risk"},"transform":[{"filter":"datum.p == 'BL'"}],"mark":{"type":"text","align":"center","baseline":"middle","fontSize":7.5},
    "encoding":{"x":{"field":"t","type":"quantitative","scale":{"domain":[0,224],"nice":false,"zero":false},"axis":null},
     "y":{"field":"g","type":"ordinal","scale":{"domain":["hdr","low","high"],"range":[20,37],"padding":0},"axis":{"title":null,"ticks":false,"domain":false,"labelAngle":0,"labelAlign":"right","labelBaseline":"middle","labelPadding":15,"labelFontSize":7.5,"labelOverlap":false,"labelExpr":"datum.value == 'hdr' ? '' : datum.value","labelColor":{"condition":{"test":"datum.value == 'high'","value":"#d9452f"},"value":"#222"}}},
     "text":{"field":"n","type":"quantitative"},
     "color":{"condition":{"test":"datum.g == 'high'","value":"#d9452f"},"value":"#222"}}},
   {"data":{"values":[{}]},"mark":{"type":"text","align":"left","baseline":"middle","fontSize":7.5,"dx":-3,"color":"#222"},"encoding":{"x":{"datum":0},"y":{"datum":"hdr"},"text":{"value":"Number at risk"}}}
  ]},
 {"width":216,"height":41,"view":{"stroke":null},
  "layer":[
   {"data":{"name":"risk"},"transform":[{"filter":"datum.p == 'BR'"}],"mark":{"type":"text","align":"center","baseline":"middle","fontSize":7.5},
    "encoding":{"x":{"field":"t","type":"quantitative","scale":{"domain":[0,205],"nice":false,"zero":false},"axis":null},
     "y":{"field":"g","type":"ordinal","scale":{"domain":["hdr","low","high"],"range":[20,37],"padding":0},"axis":{"title":null,"ticks":false,"domain":false,"labelAngle":0,"labelAlign":"right","labelBaseline":"middle","labelPadding":15,"labelFontSize":7.5,"labelOverlap":false,"labelExpr":"datum.value == 'hdr' ? '' : datum.value","labelColor":{"condition":{"test":"datum.value == 'high'","value":"#d9452f"},"value":"#222"}}},
     "text":{"field":"n","type":"quantitative"},
     "color":{"condition":{"test":"datum.g == 'high'","value":"#d9452f"},"value":"#222"}}},
   {"data":{"values":[{}]},"mark":{"type":"text","align":"left","baseline":"middle","fontSize":7.5,"dx":-1,"color":"#222"},"encoding":{"x":{"datum":0},"y":{"datum":"hdr"},"text":{"value":"Number at risk"}}}
  ]}
],
"config":{
 "font":"Liberation Sans",
 "view":{"stroke":"#555","strokeWidth":1},
 "axis":{"domain":false,"grid":false,"ticks":true,"tickSize":4,"tickColor":"#444","labelColor":"#444","labelFontSize":7.5,"labelFont":"Liberation Sans","labelFlush":false,"labelOverlap":false,"titleFont":"Liberation Sans","titleFontSize":12.5,"titleFontWeight":"bold","titleColor":"#111"},
 "axisQuantitative":{"labelOverlap":false},
 "axisX":{"labelPadding":2},
 "axisY":{"labelAngle":270,"labelAlign":"center","labelBaseline":"bottom","labelPadding":2,"titlePadding":5,"labelOverlap":false},
 "legend":{"orient":"bottom-left","offset":3,"padding":0,"titleFontSize":7.5,"titleFontWeight":"normal","titleColor":"#333","titleFont":"Liberation Sans","labelFont":"Liberation Sans","labelFontSize":7.5,"labelColor":"#333","symbolType":"stroke","symbolSize":100,"symbolStrokeWidth":1,"symbolOffset":8,"labelOffset":3,"titlePadding":2,"rowPadding":0.5}
}
}
